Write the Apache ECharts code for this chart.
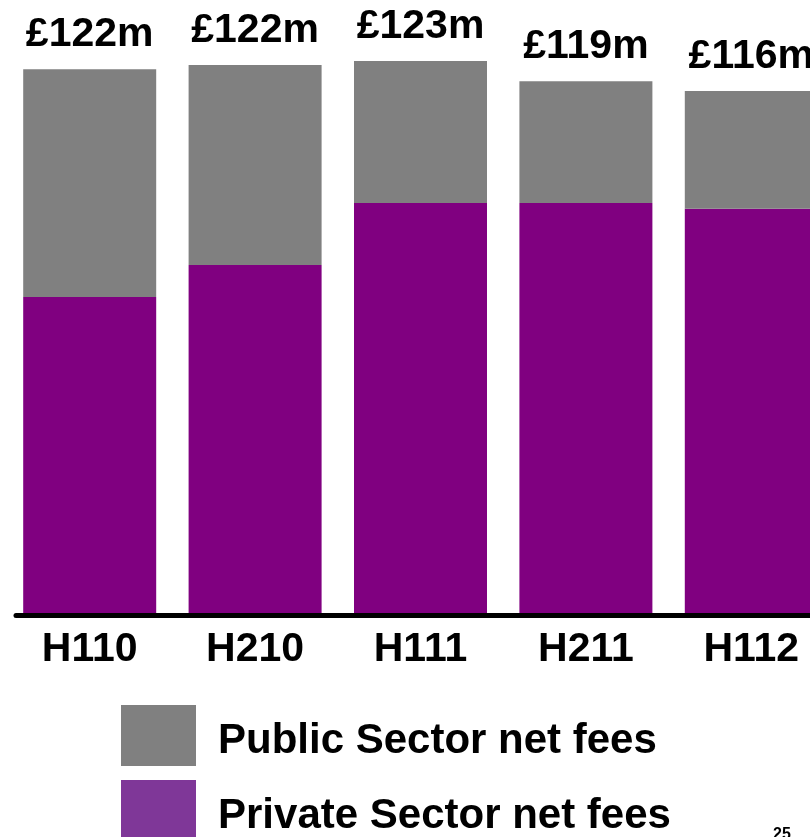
<!DOCTYPE html>
<html>
<head>
<meta charset="utf-8">
<script src="https://cdn.jsdelivr.net/npm/echarts@6/dist/echarts.min.js"></script>
<style>
    html, body { margin: 0; padding: 0; background: #ffffff; overflow: hidden; }
    /* 最后一根柱子在右边被截掉，所以画布比窗口宽一点 */
    #main { width: 834px; height: 837px; }
</style>
</head>
<body>
<div id="main"></div>
<script>
    // 半年度数据 (£m)
    var categories = ['H110', 'H210', 'H111', 'H211', 'H112'];
    var privateFees = [70.8, 78.0, 91.9, 91.9, 90.6];
    var publicFees = [51.1, 44.8, 31.8, 27.3, 26.4];
    var totalLabels = ['£122m', '£122m', '£123m', '£119m', '£116m'];

    var font = '"Liberation Sans", Arial, sans-serif';
    // 图例文字稍微往下挪
    var legendText = {
        rich: {
            t: {
                fontFamily: font,
                fontWeight: 'bold',
                fontSize: 42,
                color: '#000000',
                padding: [12, 0, 0, 17]
            }
        }
    };

    var chart = echarts.init(document.getElementById('main'));
    chart.setOption({
        animation: false,
        grid: [
            // 柱子
            { left: 7, top: 33, right: 0, bottom: 224 },
            // 只画底部轴线
            { left: 16, top: 33, right: 0, bottom: 222 }
        ],
        // 图例分两行
        legend: [
            {
                left: 116,
                top: 700,
                itemWidth: 75,
                itemHeight: 61,
                icon: 'rect',
                selectedMode: false,
                formatter: '{t|{name}}',
                textStyle: legendText,
                data: [{ name: 'Public Sector net fees', itemStyle: { color: '#808080' } }]
            },
            {
                left: 116,
                top: 775,
                itemWidth: 75,
                itemHeight: 61,
                icon: 'rect',
                selectedMode: false,
                formatter: '{t|{name}}',
                textStyle: legendText,
                data: [{ name: 'Private Sector net fees', itemStyle: { color: '#7f3798' } }]
            }
        ],
        xAxis: [
            {
                type: 'category',
                gridIndex: 0,
                data: categories,
                axisLine: { show: false },
                axisTick: { show: false },
                axisLabel: {
                    margin: 16,
                    fontFamily: font,
                    fontWeight: 'bold',
                    fontSize: 41,
                    color: '#000000'
                }
            },
            {
                type: 'category',
                gridIndex: 1,
                data: categories,
                axisLine: { show: true, lineStyle: { color: '#000000', width: 5 } },
                axisTick: { show: false },
                axisLabel: { show: false }
            }
        ],
        yAxis: [
            { type: 'value', gridIndex: 0, min: 0, max: 130, show: false },
            { type: 'value', gridIndex: 1, min: 0, max: 130, show: false }
        ],
        series: [
            {
                name: 'Private Sector net fees',
                type: 'bar',
                stack: 'fees',
                barWidth: 133,
                data: privateFees,
                itemStyle: { color: '#800080' }
            },
            {
                name: 'Public Sector net fees',
                type: 'bar',
                stack: 'fees',
                barWidth: 133,
                data: publicFees,
                itemStyle: { color: '#808080' },
                label: {
                    show: true,
                    position: 'top',
                    distance: 14,
                    fontFamily: font,
                    fontWeight: 'bold',
                    fontSize: 41,
                    color: '#000000',
                    formatter: function (p) {
                        return totalLabels[p.dataIndex];
                    }
                }
            }
        ],
        graphic: [
            {
                type: 'text',
                left: 773,
                top: 827,
                style: {
                    text: '25',
                    font: 'bold 16px "Liberation Sans", Arial, sans-serif',
                    fill: '#000000'
                }
            }
        ]
    });
</script>
</body>
</html>
